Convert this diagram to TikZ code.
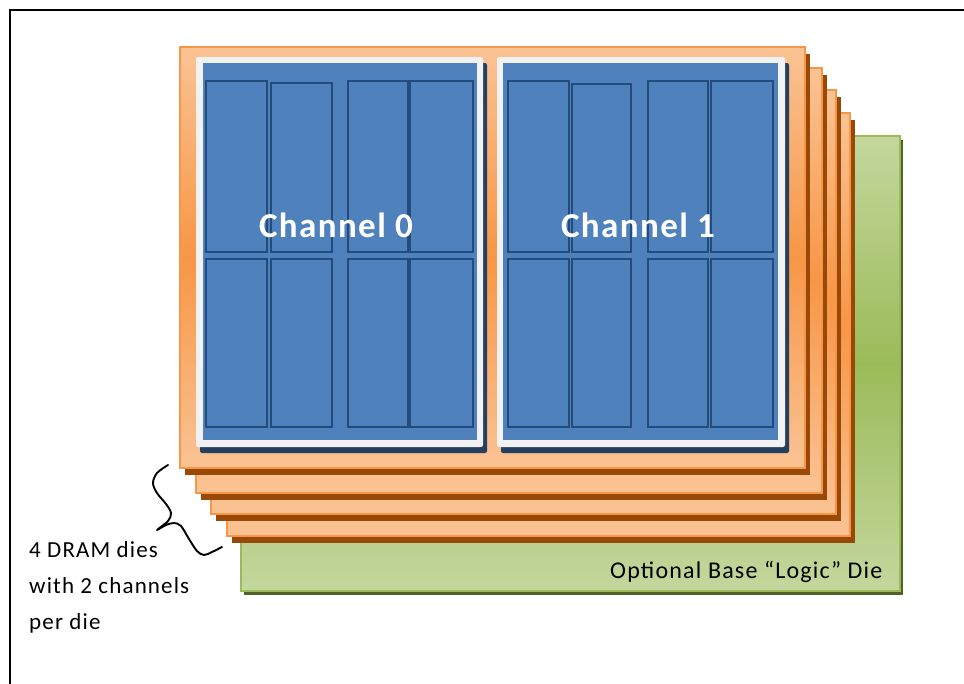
\documentclass[tikz,border=0pt]{standalone}
\usepackage{fontspec}
\setmainfont{Carlito}
\newfontfamily\notefont[LetterSpace=5]{Carlito}
\newfontfamily\chanfont[LetterSpace=4]{Carlito Bold}
\usetikzlibrary{shadows}

\definecolor{dielight}{HTML}{FAC394}
\definecolor{diedark}{HTML}{F79646}
\definecolor{dieshadow}{HTML}{984807}
\definecolor{baselight}{HTML}{C4D79D}
\definecolor{basedark}{HTML}{9BBB59}
\definecolor{baseshadow}{HTML}{4F6228}
\definecolor{chanblue}{HTML}{4F81BD}
\definecolor{bankline}{HTML}{234B7C}
\definecolor{chanframe}{HTML}{F2F2F2}
\definecolor{chanshadow}{HTML}{243F60}

\begin{document}
\begin{tikzpicture}[x=1pt,y=-1pt,
  box/.style={inner sep=0pt, outer sep=0pt, anchor=north west},
  die/.style={box, draw=diedark, line width=1.6pt,
    top color=dielight, bottom color=dielight, middle color=diedark,
    drop shadow={shadow xshift=5pt, shadow yshift=-7pt, fill=dieshadow, opacity=1}},
  basedie/.style={box, draw=basedark, line width=1.6pt,
    top color=baselight, bottom color=baselight, middle color=basedark,
    drop shadow={shadow xshift=3pt, shadow yshift=-4pt, fill=baseshadow, opacity=1}},
  chanframe/.style={box, fill=chanframe, rounded corners=2pt,
    drop shadow={shadow xshift=4pt, shadow yshift=-6pt, fill=chanshadow, opacity=1}},
  chanarea/.style={box, fill=chanblue},
  bank/.style={box, draw=bankline, line width=2.8pt},
  chanlabel/.style={text=white, font=\chanfont\fontsize{35}{40}\selectfont, anchor=base},
  note/.style={font=\notefont\fontsize{23}{36}\selectfont, inner sep=0pt}
]
\useasboundingbox (0,0) rectangle (964,683);
\draw[line width=2pt] (10,10) rectangle (975,700);

% stack of dies, back to front
\node[basedie, minimum width=659pt, minimum height=455pt] (base) at (241,136) {};
\node[die, minimum width=623pt, minimum height=423pt] (die4) at (227,113) {};
\node[die, minimum width=625pt, minimum height=424pt] (die3) at (211,90) {};
\node[die, minimum width=626pt, minimum height=425pt] (die2) at (196,68) {};
\node[die, minimum width=625pt, minimum height=421pt] (die1) at (180,47) {};

% channel 0
\node[chanframe, minimum width=287pt, minimum height=390pt] (frame0) at (196,57) {};
\node[chanarea, minimum width=274pt, minimum height=377pt] (area0) at (203,63) {};
\node[bank, minimum width=61pt, minimum height=171pt] (b00) at (206,81) {};
\node[bank, minimum width=61pt, minimum height=169pt] (b01) at (271,83) {};
\node[bank, minimum width=60pt, minimum height=171pt] (b02) at (348,81) {};
\node[bank, minimum width=63pt, minimum height=171pt] (b03) at (410,81) {};
\node[bank, minimum width=61pt, minimum height=168pt] (b04) at (206,259) {};
\node[bank, minimum width=61pt, minimum height=168pt] (b05) at (271,259) {};
\node[bank, minimum width=60pt, minimum height=168pt] (b06) at (348,259) {};
\node[bank, minimum width=63pt, minimum height=168pt] (b07) at (410,259) {};
\node[chanlabel] (lab0) at (336,237) {Channel 0};

% channel 1
\node[chanframe, minimum width=288pt, minimum height=390pt] (frame1) at (497,57) {};
\node[chanarea, minimum width=275pt, minimum height=377pt] (area1) at (503,63) {};
\node[bank, minimum width=61pt, minimum height=171pt] (b10) at (508,81) {};
\node[bank, minimum width=59pt, minimum height=168pt] (b11) at (572,84) {};
\node[bank, minimum width=60pt, minimum height=171pt] (b12) at (648,81) {};
\node[bank, minimum width=62pt, minimum height=171pt] (b13) at (711,81) {};
\node[bank, minimum width=61pt, minimum height=168pt] (b14) at (508,259) {};
\node[bank, minimum width=59pt, minimum height=168pt] (b15) at (572,259) {};
\node[bank, minimum width=60pt, minimum height=168pt] (b16) at (648,259) {};
\node[bank, minimum width=62pt, minimum height=168pt] (b17) at (711,259) {};
\node[chanlabel] (lab1) at (638,237) {Channel 1};

% base die caption
\node[note, font=\notefont\fontsize{24}{28}\selectfont, anchor=base west] (basecap) at (610,578) {Optional Base “Logic” Die};

% hand-drawn brace and its note
\draw[line width=1.9pt, line cap=round, line join=round]
  plot[smooth, tension=0.55] coordinates {
    (168,465) (157,473) (153,483) (157,493) (166,504) (171,513) (168,521) (157,530)
    (166,525) (174,523) (181,526) (189,539) (197,551) (204,555) (212,552) (222,547)};
\node[note, align=left, anchor=north west] (dienote) at (29,541)
  {4 DRAM dies\\with 2 channels\\per die};
\end{tikzpicture}
\end{document}
